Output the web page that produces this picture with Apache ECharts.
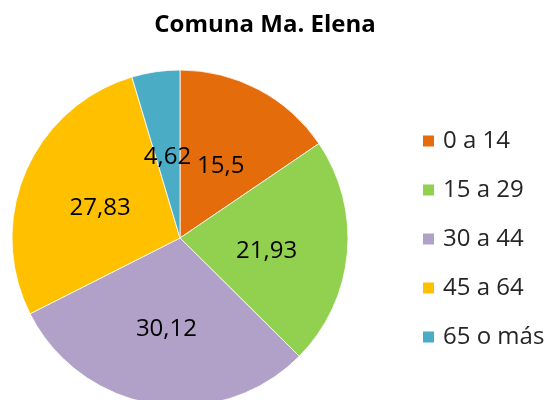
<!DOCTYPE html>
<html lang="es">
<head>
    <meta charset="UTF-8" />
    <title>Comuna Ma. Elena</title>
    <script src="https://cdn.jsdelivr.net/npm/echarts@6/dist/echarts.min.js"></script>
    <style>
        html, body { margin: 0; padding: 0; background: #fff; }
        #main { width: 548px; height: 400px; }
    </style>
</head>
<body>
    <div id="main"></div>
</body>
<script>
    var categories = ['0 a 14', '15 a 29', '30 a 44', '45 a 64', '65 o más'];
    var values = [15.5, 21.93, 30.12, 27.83, 4.62];
    var colors = ['#E46C0A', '#92D050', '#B1A0C7', '#FFC000', '#4BACC6'];

    var myChart = echarts.init(document.getElementById('main'));

    var data = [];
    for (var i = 0; i < categories.length; i++) {
        data.push({ name: categories[i], value: values[i], itemStyle: { color: colors[i] } });
    }

    var option = {
        backgroundColor: '#fff',
        title: {
            text: 'Comuna Ma. Elena',
            left: 260,
            textAlign: 'center',
            top: 8,
            textStyle: {
                fontFamily: 'Open Sans',
                fontWeight: 'bold',
                fontSize: 24,
                color: '#000'
            }
        },
        legend: {
            orient: 'vertical',
            left: 416,
            top: 124,
            itemWidth: 13,
            itemHeight: 13,
            itemGap: 25,
            icon: 'rect',
            data: categories,
            textStyle: {
                fontFamily: 'Open Sans',
                fontSize: 24,
                lineHeight: 24,
                color: '#262626',
                padding: [0, 0, 0, 3]
            }
        },
        series: [{
            type: 'pie',
            center: [180, 238],
            radius: 168,
            startAngle: 90,
            clockwise: true,
            avoidLabelOverlap: false,
            itemStyle: { borderColor: '#fff', borderWidth: 0.8 },
            label: {
                show: true,
                position: 'inside',
                fontFamily: 'Open Sans',
                fontSize: 24,
                color: '#000',
                offset: [0, 5],
                formatter: function (params) {
                    return String(params.value).replace('.', ',');
                }
            },
            labelLine: { show: false },
            emphasis: { disabled: true },
            data: data
        }]
    };

    myChart.setOption(option);
</script>
</html>
